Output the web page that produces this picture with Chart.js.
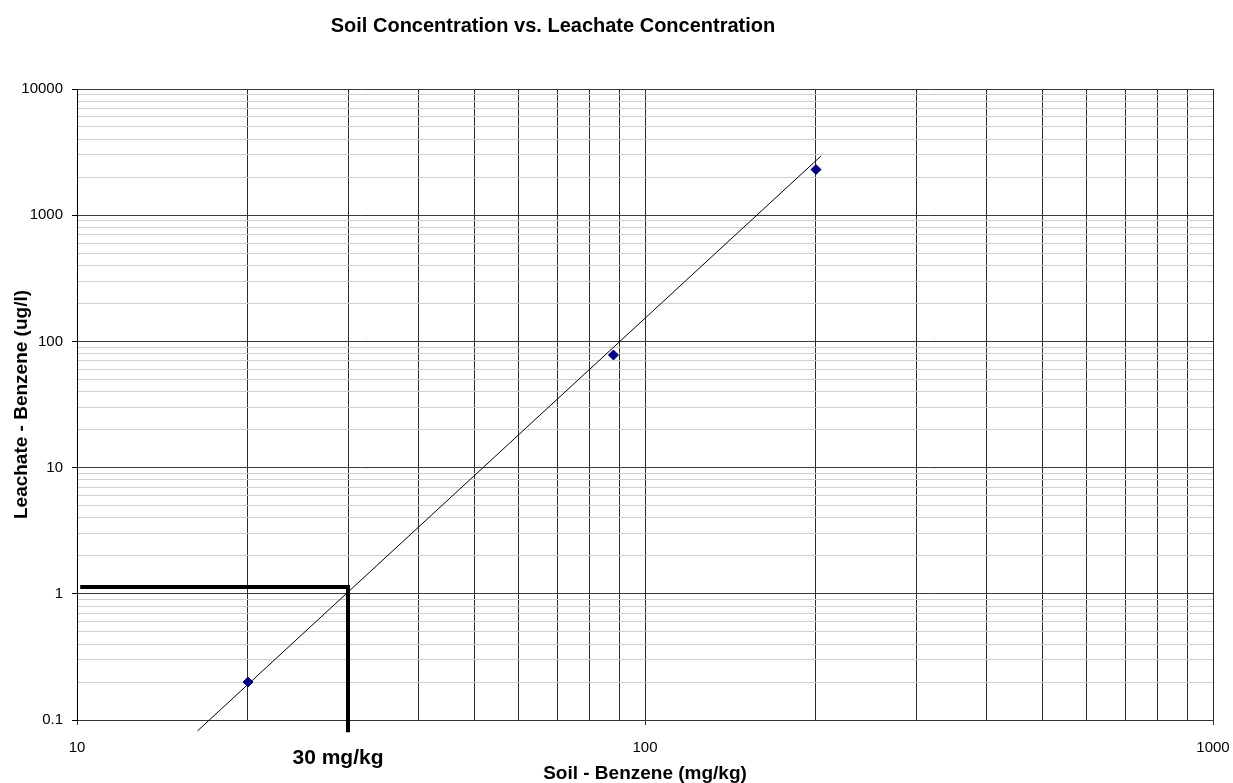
<!DOCTYPE html>
<html>
<head>
<meta charset="utf-8">
<script src="https://cdn.jsdelivr.net/npm/chart.js@4/dist/chart.umd.min.js"></script>
<style>
  html, body { margin: 0; padding: 0; background: #fff; }
</style>
</head>
<body>
<canvas id="soilChart" width="1233" height="783"></canvas>
<script>
// measured samples
const soilValues = [20, 88, 200];
const leachateValues = [0.2, 78, 2300];

// fitted line end points (as drawn)
const trendSoil = [16.3, 204];
const trendLeachate = [0.082, 2940];

// 30 mg/kg read-off guide
const guideSoil = [10.13, 30, 30];
const guideLeachate = [1.13, 1.13, 0.08];
const guideLabel = '30 mg/kg';

const xRange = [10, 1000];
const yRange = [0.1, 10000];

const chartTitle = 'Soil Concentration vs. Leachate Concentration';
const xTitle = 'Soil - Benzene (mg/kg)';
const yTitle = 'Leachate - Benzene (ug/l)';

const FONT = '"Liberation Sans", Arial, sans-serif';

const toPoints = (xs, ys) => xs.map((v, i) => ({ x: v, y: ys[i] }));
const isMajor = v => Math.abs(Math.log10(v) - Math.round(Math.log10(v))) < 1e-6;

// 1..9 x 10^k between min and max, like a classic log paper
function logPaperTicks(min, max) {
    const out = [];
    for (let e = Math.floor(Math.log10(min)); e <= Math.ceil(Math.log10(max)); e++) {
        for (let m = 1; m <= 9; m++) {
            const v = +(m * Math.pow(10, e)).toPrecision(6);
            if (v >= min * 0.999999 && v <= max * 1.000001) out.push({ value: v, major: m === 1 });
        }
    }
    return out;
}

const extraText = {
    id: 'extraText',
    afterDraw(chart) {
        const { ctx } = chart;
        const x = chart.scales.x;
        ctx.save();
        ctx.fillStyle = '#000';
        ctx.textAlign = 'center';
        ctx.textBaseline = 'alphabetic';
        ctx.font = 'bold 20px ' + FONT;
        ctx.fillText(chartTitle, 553, 31.5);
        ctx.font = 'bold 21px ' + FONT;
        ctx.fillText(guideLabel, x.getPixelForValue(guideSoil[1]) - 10, 764);
        ctx.restore();
    }
};

const ctx = document.getElementById('soilChart').getContext('2d');

new Chart(ctx, {
    type: 'scatter',
    data: {
        datasets: [
            {
                label: 'Samples',
                data: toPoints(soilValues, leachateValues),
                pointStyle: 'rectRot',
                pointRadius: 5,
                pointBackgroundColor: '#000080',
                pointBorderColor: '#000080',
                pointBorderWidth: 1,
                showLine: false,
                order: 0
            },
            {
                label: 'Trend',
                data: toPoints(trendSoil, trendLeachate),
                showLine: true,
                borderColor: '#000',
                borderWidth: 1,
                pointRadius: 0,
                clip: false,
                order: 2
            },
            {
                label: 'Guide',
                data: toPoints(guideSoil, guideLeachate),
                showLine: true,
                borderColor: '#000',
                borderWidth: 4,
                borderJoinStyle: 'miter',
                borderCapStyle: 'butt',
                pointRadius: 0,
                clip: false,
                order: 1
            }
        ]
    },
    options: {
        responsive: false,
        animation: false,
        layout: { padding: { top: 89, right: 20, bottom: 0, left: 0 } },
        plugins: {
            legend: { display: false },
            title: { display: false },
            tooltip: { enabled: false }
        },
        scales: {
            x: {
                type: 'logarithmic',
                position: 'bottom',
                min: xRange[0],
                max: xRange[1],
                afterBuildTicks: s => { s.ticks = logPaperTicks(xRange[0], xRange[1]); },
                afterFit: s => { s.height = 63; s.paddingLeft = 0; s.paddingRight = 0; },
                border: { color: '#333', width: 1 },
                grid: {
                    color: '#2a2a2a',
                    lineWidth: 1,
                    tickLength: 5,
                    tickColor: c => (c.tick && isMajor(c.tick.value)) ? '#333' : 'rgba(0,0,0,0)'
                },
                ticks: {
                    autoSkip: false,
                    maxRotation: 0,
                    padding: 14,
                    color: '#000',
                    font: { family: FONT, size: 15 },
                    callback: v => isMajor(v) ? String(v) : ''
                },
                title: {
                    display: true,
                    text: xTitle,
                    color: '#000',
                    font: { family: FONT, size: 19, weight: 'bold', lineHeight: 1 },
                    padding: { top: 0, bottom: 0 }
                }
            },
            y: {
                type: 'logarithmic',
                position: 'left',
                min: yRange[0],
                max: yRange[1],
                afterBuildTicks: s => { s.ticks = logPaperTicks(yRange[0], yRange[1]); },
                afterFit: s => { s.width = 77; s.paddingTop = 0; s.paddingBottom = 0; },
                border: { color: '#000', width: 1 },
                grid: {
                    color: c => (c.tick && isMajor(c.tick.value)) ? '#3a3a3a' : '#cfcfcf',
                    lineWidth: 1,
                    tickLength: 5,
                    tickColor: c => (c.tick && isMajor(c.tick.value)) ? '#000' : 'rgba(0,0,0,0)'
                },
                ticks: {
                    autoSkip: false,
                    padding: 9,
                    color: '#000',
                    font: { family: FONT, size: 15 },
                    callback: v => isMajor(v) ? String(+v.toPrecision(6)) : ''
                },
                title: {
                    display: true,
                    text: yTitle,
                    color: '#000',
                    font: { family: FONT, size: 19, weight: 'bold', lineHeight: 1 },
                    padding: { top: 12, bottom: 0 }
                }
            }
        }
    },
    plugins: [extraText]
});
</script>
</body>
</html>
